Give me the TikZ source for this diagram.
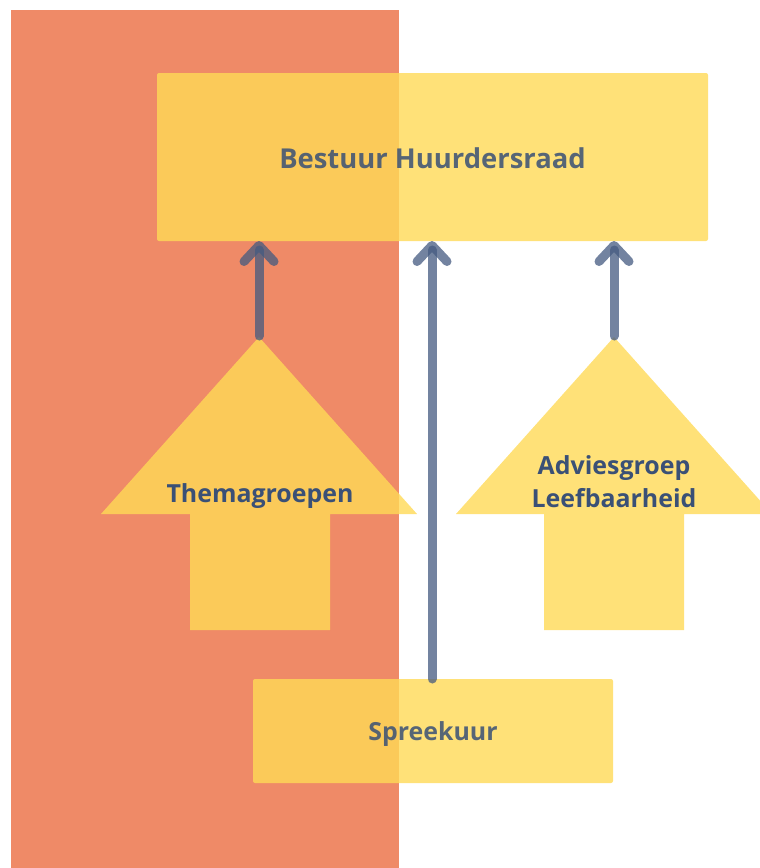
\documentclass[tikz,border=0pt]{standalone}
\usepackage{fontspec}
\setmainfont{Open Sans}
\usetikzlibrary{arrows.meta}
\definecolor{bgorange}{HTML}{EF8A67}
\definecolor{boxyellow}{HTML}{FFDA56}
\definecolor{txtblue}{HTML}{3A5076}
\definecolor{lineblue}{HTML}{445A80}
\tikzset{
  ybox/.style={fill=boxyellow, fill opacity=0.8, draw=none, rounded corners=2bp, inner sep=0pt},
  lbl/.style={text=txtblue, font=\bfseries\fontsize{25}{33}\selectfont, align=center, text opacity=0.85},
  blockarrow/.style={fill=boxyellow, fill opacity=0.8, draw=none},
  conn/.style={draw=lineblue, draw opacity=0.75, line width=9bp, line cap=round,
    -{Straight Barb[length=16bp,width=30bp,round]}},
}
\begin{document}
\begin{tikzpicture}[x=1bp,y=-1bp]
\useasboundingbox (0,0) rectangle (760,868);
% background orange band
\fill[bgorange] (11,10) rectangle (399,868);
% top box
\fill[ybox] (157,73) rectangle (708,241);
\node[lbl, font=\bfseries\fontsize{27.5}{33}\selectfont] (top) at (432.5,158) {Bestuur Huurdersraad};
\coordinate (topS) at (432.5,241);
% Spreekuur box
\fill[ybox] (253,679) rectangle (613,783);
\node[lbl] (spreek) at (433,734) {Spreekuur};
\coordinate (spreekN) at (432,679);
% block arrows
\fill[blockarrow] (259,337) -- (417,514) -- (330,514) -- (330,630) -- (190,630) -- (190,514) -- (101,514) -- cycle;
\coordinate (themaTip) at (259,336);
\node[lbl, text opacity=1] (thema) at (260,496) {Themagroepen};
\fill[blockarrow] (614,337) -- (772,514) -- (684,514) -- (684,630) -- (544,630) -- (544,514) -- (456,514) -- cycle;
\coordinate (adviesTip) at (614,336);
\node[lbl, text opacity=1] (advies) at (614,482) {Adviesgroep\\Leefbaarheid};
% connectors
\draw[conn] (themaTip) -- (themaTip |- topS);
\draw[conn] (spreekN) -- (spreekN |- topS);
\draw[conn] (adviesTip) -- (adviesTip |- topS);
\end{tikzpicture}
\end{document}
